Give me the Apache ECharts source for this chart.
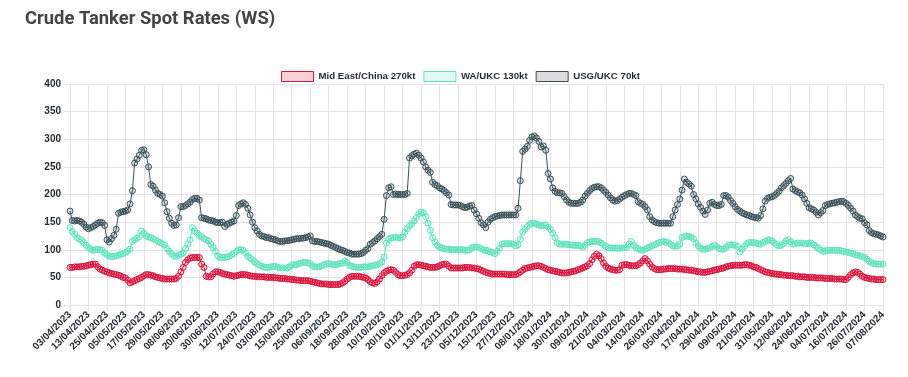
<!DOCTYPE html>
<html><head><meta charset="utf-8">
<script src="https://cdn.jsdelivr.net/npm/echarts@6/dist/echarts.min.js"></script>
<style>html,body{margin:0;padding:0;background:#fff}#c{width:908px;height:377px}</style>
</head><body><div id="c"></div>
<script>
// ---- data ----
const titleText = 'Crude Tanker Spot Rates (WS)';
const seriesNames = ['Mid East/China 270kt', 'WA/UKC 130kt', 'USG/UKC 70kt'];
const startDate = '2023-04-03';   // first trading day (weekdays only)
const endDate = '2024-08-07';     // last trading day
const yTicks = [0, 50, 100, 150, 200, 250, 300, 350, 400];

// categories: every weekday from startDate to endDate
function weekdayLabels(s, e) {
  const out = [];
  const d = new Date(s + 'T00:00:00Z');
  const end = new Date(e + 'T00:00:00Z');
  while (d <= end) {
    const wd = d.getUTCDay();
    if (wd !== 0 && wd !== 6) {
      const dd = String(d.getUTCDate()).padStart(2, '0');
      const mm = String(d.getUTCMonth() + 1).padStart(2, '0');
      out.push(dd + '/' + mm + '/' + d.getUTCFullYear());
    }
    d.setUTCDate(d.getUTCDate() + 1);
  }
  return out;
}
const dates = weekdayLabels(startDate, endDate);

const midEastChina = [
  68,68,69,69,69,70,70,71,
  72,73,74,74,69,65,63,61,
  60,58,57,56,55,54,52,50,
  49,45,40,42,44,46,48,50,
  53,55,55,54,53,51,50,49,
  48,47,47,47,47,47,48,52,
  60,68,77,82,85,86,86,86,
  86,74,68,52,51,51,56,60,
  60,59,57,56,55,54,53,52,
  53,54,55,55,55,54,53,52,
  52,51,51,51,51,50,50,50,
  50,49,49,48,48,48,47,47,
  46,46,45,45,44,44,44,44,
  43,42,41,40,39,38,38,38,
  37,37,37,37,37,38,40,43,
  47,50,52,52,52,52,51,50,
  49,46,42,40,39,42,47,53,
  58,61,63,64,63,59,55,53,
  53,54,55,58,63,70,73,73,
  72,71,70,69,68,68,68,69,
  71,73,74,74,70,67,67,67,
  67,67,67,68,68,68,67,67,
  66,65,63,61,59,58,57,56,
  56,56,56,56,56,55,55,55,
  55,55,57,60,63,66,67,68,
  69,70,71,71,70,68,66,64,
  63,62,61,60,59,58,58,58,
  59,60,61,62,64,65,67,69,
  71,75,82,88,92,89,84,76,
  70,67,65,64,63,63,64,72,
  73,73,72,71,71,71,73,76,
  80,84,80,74,69,66,64,64,
  64,65,65,66,66,66,66,65,
  65,65,64,64,63,63,62,61,
  60,60,59,59,60,61,62,63,
  64,65,66,67,69,70,71,72,
  72,72,72,72,73,73,72,71,
  69,68,66,64,62,60,59,58,
  57,56,56,55,55,54,54,53,
  53,53,52,52,51,51,51,50,
  50,50,50,49,49,49,49,48,
  48,48,48,47,47,47,47,46,
  46,50,55,58,60,59,56,52,
  50,49,48,47,47,46,46,46,
  46
];

const waUkc = [
  140,133,128,122,120,117,113,108,
  104,101,99,100,101,100,99,94,
  91,88,88,88,89,90,92,93,
  95,98,101,115,118,121,124,134,
  130,125,123,122,120,118,115,113,
  111,109,102,97,92,89,88,90,
  92,94,102,110,118,140,134,130,
  126,123,120,118,116,110,104,97,
  89,86,86,86,87,88,91,93,
  97,100,100,99,94,88,85,82,
  78,75,72,70,69,68,68,69,
  70,70,68,67,67,67,67,69,
  72,73,73,75,76,77,77,76,
  75,71,69,69,69,71,73,74,
  75,74,73,73,74,75,76,80,
  77,72,70,69,68,68,68,69,
  69,69,70,71,72,73,75,78,
  87,112,119,121,122,123,122,121,
  123,132,138,143,147,152,158,165,
  168,167,160,148,135,122,114,108,
  105,103,102,101,101,100,100,100,
  100,100,100,99,99,100,104,105,
  105,104,102,100,99,98,96,95,
  93,97,103,110,111,111,111,111,
  110,107,109,119,132,137,142,146,
  148,148,146,145,143,144,145,141,
  137,130,122,112,110,110,110,110,
  109,109,108,108,108,107,105,108,
  113,114,115,115,115,115,112,109,
  106,104,103,103,103,103,103,103,
  104,104,110,115,108,104,102,100,
  99,101,103,105,107,109,111,113,
  114,115,114,113,110,107,106,107,
  110,122,124,125,124,123,120,112,
  107,103,101,101,102,104,106,108,
  106,102,101,101,104,108,109,109,
  108,106,96,101,106,111,113,113,
  113,112,111,110,113,115,117,118,
  116,112,109,107,108,111,116,118,
  114,110,111,112,112,112,111,111,
  112,112,109,106,103,100,97,98,
  99,99,99,99,99,99,98,97,
  96,95,94,93,91,90,89,88,
  86,83,79,77,75,74,74,74,
  74
];

const usgUkc = [
  170,153,152,153,152,150,146,141,
  138,140,142,145,148,150,149,144,
  118,114,120,126,137,166,168,169,
  170,172,183,207,257,264,271,280,
  281,272,250,218,215,208,202,200,
  197,185,169,157,148,144,145,158,
  178,178,180,183,186,191,193,193,
  190,158,157,156,154,153,152,150,
  149,149,150,142,146,148,150,152,
  162,180,183,185,182,175,163,150,
  140,134,128,125,124,122,122,120,
  119,118,116,115,115,116,116,117,
  118,119,120,120,121,121,122,123,
  125,116,115,115,114,113,112,111,
  110,108,106,104,102,100,99,97,
  95,94,92,92,92,92,93,95,
  99,102,110,113,116,120,124,128,
  155,198,212,214,200,201,200,200,
  200,200,202,266,270,273,275,271,
  266,259,250,244,240,222,218,216,
  212,210,207,203,199,182,181,181,
  181,180,178,176,177,179,180,172,
  165,157,149,145,140,150,155,158,
  160,161,162,163,163,163,163,163,
  163,163,175,225,278,282,287,298,
  304,306,302,296,286,288,280,238,
  228,212,206,203,203,202,196,190,
  186,184,184,184,184,186,190,197,
  202,207,211,213,214,214,212,208,
  204,199,194,190,188,189,192,195,
  198,200,202,202,200,198,187,184,
  182,178,172,160,154,151,149,148,
  148,148,148,148,148,160,172,182,
  192,208,228,222,219,215,200,192,
  183,177,170,164,172,184,186,182,
  180,180,182,198,198,195,189,184,
  178,173,170,167,165,163,162,160,
  159,158,157,162,174,188,193,195,
  196,198,202,206,212,216,220,225,
  229,210,207,205,203,199,192,184,
  176,174,172,168,163,167,171,180,
  182,183,184,185,186,187,188,187,
  184,180,175,170,163,160,157,156,
  149,145,135,131,129,128,127,125,
  123
];

// ---- styles ----
const lineColors = ['#d8143c', '#5fe3bd', '#3a525b'];
const fillColors = ['rgba(216,20,60,0.2)', 'rgba(95,227,189,0.2)', 'rgba(58,82,91,0.2)'];
const textColor = '#1f2a35';
const gridColor = '#e3e3e3';
const labelFont = { fontFamily: 'Liberation Sans, Arial, sans-serif', fontSize: 10, fontWeight: 'bold', color: textColor };

const allValues = [midEastChina, waUkc, usgUkc];
const chart = echarts.init(document.getElementById('c'), null, { renderer: 'canvas' });
chart.setOption({
  animation: false,
  backgroundColor: '#fff',
  title: {
    text: titleText, left: 20, top: 5,
    textStyle: { fontFamily: 'Roboto, sans-serif', fontSize: 18.4, fontWeight: 'bold', color: '#444' }
  },
  legend: {
    top: 66, left: 276, icon: 'rect', itemWidth: 32, itemHeight: 10, itemGap: 8,
    textStyle: Object.assign({}, labelFont, { fontSize: 9.7 }),
    data: seriesNames.map((n, i) => ({ name: n, itemStyle: { color: fillColors[i], borderColor: lineColors[i], borderWidth: 1 } }))
  },
  grid: { left: 70, right: 25, top: 84, bottom: 72, containLabel: false },
  xAxis: {
    type: 'category', data: dates, boundaryGap: false,
    axisLine: { lineStyle: { color: gridColor } },
    axisTick: { show: true, interval: 7, length: 6, lineStyle: { color: gridColor } },
    axisLabel: Object.assign({ interval: 7, rotate: 45, margin: 8 }, labelFont),
    splitLine: { show: true, interval: 7, lineStyle: { color: gridColor } }
  },
  yAxis: {
    type: 'value', min: yTicks[0], max: yTicks[yTicks.length - 1], interval: yTicks[1] - yTicks[0],
    axisLine: { show: true, lineStyle: { color: gridColor } },
    axisTick: { show: true, length: 6, lineStyle: { color: gridColor } },
    axisLabel: Object.assign({ margin: 9 }, labelFont),
    splitLine: { show: true, lineStyle: { color: gridColor } }
  },
  series: seriesNames.map((n, i) => ({
    name: n, type: 'line', data: allValues[i],
    symbol: 'circle', symbolSize: 6, showSymbol: true, showAllSymbol: true,
    lineStyle: { color: lineColors[i], width: 1 },
    itemStyle: { color: fillColors[i], borderColor: lineColors[i], borderWidth: 1 }
  }))
});
</script>
</body></html>
